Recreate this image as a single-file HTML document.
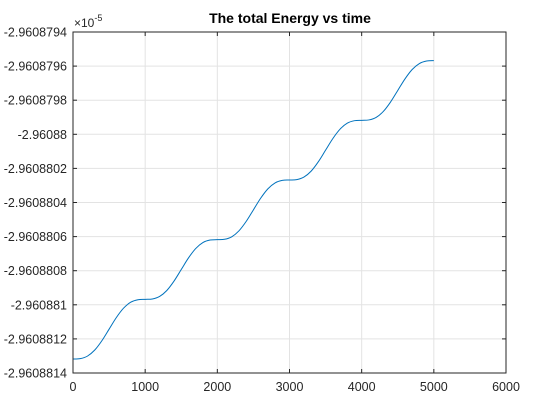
<!DOCTYPE html>
<html><head><meta charset="utf-8"><style>
html,body{margin:0;padding:0;background:#fff;}
svg{display:block;font-family:"Liberation Sans",Arial,sans-serif;}
</style></head><body>
<svg id="chart" width="560" height="420" viewBox="0 0 560 420" xmlns="http://www.w3.org/2000/svg">
<rect x="0" y="0" width="560" height="420" fill="#fff"/>
<g id="grid"></g>
<g id="series"></g>
<g id="axes"></g>
<text x="290" y="23" text-anchor="middle" font-size="14" font-weight="bold" fill="#000">The total Energy vs time</text>
<text x="74" y="27" font-size="12" fill="#262626">×10<tspan font-size="9" dy="-6">-5</tspan></text>
</svg>
<script>
const xTicks = [0,1000,2000,3000,4000,5000,6000];
const yTicks = [-2.9608814,-2.9608812,-2.960881,-2.9608808,-2.9608806,-2.9608804,-2.9608802,-2.96088,-2.9608798,-2.9608796,-2.9608794];
const yTickLabels = ["-2.9608814","-2.9608812","-2.960881","-2.9608808","-2.9608806","-2.9608804","-2.9608802","-2.96088","-2.9608798","-2.9608796","-2.9608794"];
const timeValues = [0,100,200,300,400,500,600,700,800,900,1000,1100,1200,1300,1400,1500,1600,1700,1800,1900,2000,2100,2200,2300,2400,2500,2600,2700,2800,2900,3000,3100,3200,3300,3400,3500,3600,3700,3800,3900,4000,4100,4200,4300,4400,4500,4600,4700,4800,4900,5000];
const energyValues = [
-2.9608813180,-2.9608813158,-2.9608813010,-2.9608812660,-2.9608812108,-2.9608811430,-2.9608810752,-2.9608810200,-2.9608809850,-2.9608809702,
-2.9608809680,-2.9608809658,-2.9608809510,-2.9608809160,-2.9608808608,-2.9608807930,-2.9608807252,-2.9608806700,-2.9608806350,-2.9608806202,
-2.9608806180,-2.9608806158,-2.9608806010,-2.9608805660,-2.9608805108,-2.9608804430,-2.9608803752,-2.9608803200,-2.9608802850,-2.9608802702,
-2.9608802680,-2.9608802658,-2.9608802510,-2.9608802160,-2.9608801608,-2.9608800930,-2.9608800252,-2.9608799700,-2.9608799350,-2.9608799202,
-2.9608799180,-2.9608799158,-2.9608799010,-2.9608798660,-2.9608798108,-2.9608797430,-2.9608796752,-2.9608796200,-2.9608795850,-2.9608795702,
-2.9608795680];
const L=73,R=506,T=32,B=373;
const xMin=0,xMax=6000,yMin=-2.9608814,yMax=-2.9608794;
const sx=v=>L+(v-xMin)/(xMax-xMin)*(R-L);
const sy=v=>B-(v-yMin)/(yMax-yMin)*(B-T);
const NS="http://www.w3.org/2000/svg";
function mk(tag,attrs,parent){const e=document.createElementNS(NS,tag);for(const k in attrs)e.setAttribute(k,attrs[k]);parent.appendChild(e);return e;}
const grid=document.getElementById('grid'),axes=document.getElementById('axes'),series=document.getElementById('series');
xTicks.forEach(t=>{
  const x=sx(t);
  const g=mk('line',{x1:x,x2:x,y1:T,y2:B,stroke:'#e3e3e3','stroke-width':1},grid);
  
  
  const t1=mk('line',{x1:x,x2:x,y1:B,y2:B-4,stroke:'#262626'},axes);
  
  
  const t2=mk('line',{x1:x,x2:x,y1:T,y2:T+4,stroke:'#262626'},axes);
  
  
  const lb=mk('text',{x:x,y:B+18,'text-anchor':'middle','font-size':12.5,fill:'#262626'},axes);
  lb.textContent=t;
  
  
});
yTicks.forEach((t,i)=>{
  const y=sy(t);
  const g=mk('line',{x1:L,x2:R,y1:y,y2:y,stroke:'#e3e3e3','stroke-width':1},grid);
  
  
  const t1=mk('line',{x1:L,x2:L+4,y1:y,y2:y,stroke:'#262626'},axes);
  
  
  const t2=mk('line',{x1:R,x2:R-4,y1:y,y2:y,stroke:'#262626'},axes);
  
  
  const lb=mk('text',{x:L-6,y:y+4.5,'text-anchor':'end','font-size':12.5,fill:'#262626'},axes);
  lb.textContent=yTickLabels[i];
  
  
});
const box=mk('rect',{x:L,y:T,width:R-L,height:B-T,fill:'none',stroke:'#262626','stroke-width':1},axes);


const pts=timeValues.map((t,i)=>[sx(t),sy(energyValues[i])]);
let d='M'+pts[0][0]+','+pts[0][1];
for(let i=0;i<pts.length-1;i++){
  const p0=pts[Math.max(i-1,0)],p1=pts[i],p2=pts[i+1],p3=pts[Math.min(i+2,pts.length-1)];
  const c1=[p1[0]+(p2[0]-p0[0])/6,p1[1]+(p2[1]-p0[1])/6];
  const c2=[p2[0]-(p3[0]-p1[0])/6,p2[1]-(p3[1]-p1[1])/6];
  d+=' C'+c1[0]+','+c1[1]+' '+c2[0]+','+c2[1]+' '+p2[0]+','+p2[1];
}
const line=mk('path',{d:d,fill:'none',stroke:'#0072BD','stroke-width':1},series);


</script>
</body></html>
